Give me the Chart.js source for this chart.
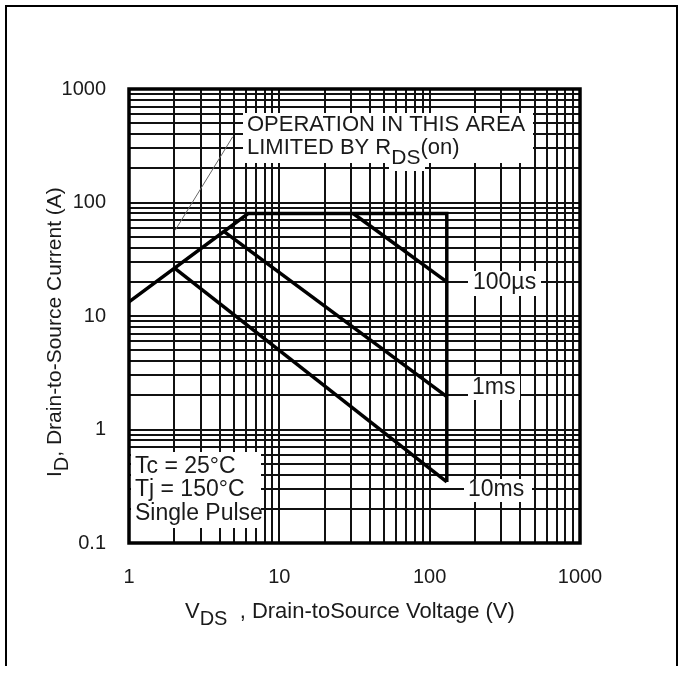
<!DOCTYPE html>
<html>
<head>
<meta charset="utf-8">
<script src="https://cdn.jsdelivr.net/npm/chart.js@4"></script>
<style>
  body { margin: 0; background: #fff; }
  #wrap { position: relative; width: 683px; height: 674px; overflow: hidden; }
  #frame { position: absolute; left: 5px; top: 5px; width: 669px; height: 659px;
           border: 2px solid #000; border-bottom: none; pointer-events: none; }
</style>
</head>
<body>
<div id="wrap">
  <canvas id="soaChart"></canvas>
  <div id="frame"></div>
</div>
<script>
// Safe operating area

const xTickLabels = [1, 10, 100, 1000];
const yTickLabels = [0.1, 1, 10, 100, 1000];
const decadeSteps = [1, 2, 3, 4, 5, 6, 7, 8, 9];

// envelope: RDS(on) limit, current limit, voltage limit
const limitV = [1, 6.2, 130, 130];
const limitI = [13.3, 80, 80, 0.345];

const pulse100usV = [31, 130];
const pulse100usI = [80, 20];

const pulse1msV = [4.25, 130];
const pulse1msI = [56, 1.95];

const pulse10msV = [2.0, 130];
const pulse10msI = [26.5, 0.345];

// thin pointer from the note to the RDS(on) line
const leaderV = [2.03, 4.9];
const leaderI = [57, 380];

const FONT = "'Liberation Sans', Arial, Helvetica, sans-serif";
const INK = "#1a1a1a";

function points(xs, ys) {
    return xs.map((x, i) => ({ x: x, y: ys[i] }));
}

function logTicks(labels) {
    const ticks = [];
    for (let i = 0; i < labels.length - 1; i++) {
        decadeSteps.forEach(s => ticks.push(+(labels[i] * s).toPrecision(3)));
    }
    ticks.push(labels[labels.length - 1]);
    return ticks.map(v => ({ value: v }));
}

function curve(data, width, color) {
    return {
        data: data,
        borderColor: color,
        borderWidth: width,
        pointRadius: 0,
        fill: false,
        tension: 0
    };
}

// draws text pieces in a row, some of them as subscripts
function drawRun(ctx, x, y, pieces) {
    pieces.forEach(p => {
        ctx.font = p.size + "px " + FONT;
        ctx.fillText(p.text, x, y + (p.dy || 0));
        x += ctx.measureText(p.text).width;
    });
}

function whiteBox(ctx, a, dx, dy, w, h) {
    ctx.fillStyle = "#fff";
    ctx.fillRect(a.left + dx, a.top + dy, w, h);
    ctx.fillStyle = INK;
}

const notes = {
    id: "notes",
    beforeDatasetsDraw(chart) {
        const ctx = chart.ctx;
        const a = chart.chartArea;
        ctx.save();
        ctx.textBaseline = "middle";
        ctx.textAlign = "left";

        // operation area note
        whiteBox(ctx, a, 114, 24, 290, 50);
        whiteBox(ctx, a, 260, 60, 36, 22);
        drawRun(ctx, a.left + 118, a.top + 36, [{ text: "OPERATION IN THIS AREA", size: 22 }]);
        drawRun(ctx, a.left + 118, a.top + 59, [
            { text: "LIMITED BY R", size: 22 },
            { text: "DS", size: 21, dy: 10 },
            { text: "(on)", size: 22 }
        ]);

        // pulse labels
        whiteBox(ctx, a, 339, 182, 73, 25);
        drawRun(ctx, a.left + 344, a.top + 194, [{ text: "100\u00b5s", size: 23 }]);
        whiteBox(ctx, a, 339, 287, 52, 24);
        drawRun(ctx, a.left + 343, a.top + 299, [{ text: "1ms", size: 23 }]);
        whiteBox(ctx, a, 335, 390, 68, 23);
        drawRun(ctx, a.left + 339, a.top + 401, [{ text: "10ms", size: 23 }]);

        // conditions
        whiteBox(ctx, a, 2, 363, 130, 76);
        drawRun(ctx, a.left + 6, a.top + 378, [{ text: "Tc = 25\u00b0C", size: 23 }]);
        drawRun(ctx, a.left + 6, a.top + 401, [{ text: "Tj = 150\u00b0C", size: 23 }]);
        drawRun(ctx, a.left + 6, a.top + 425, [{ text: "Single Pulse", size: 23 }]);

        ctx.restore();
    },
    afterDatasetsDraw(chart) {
        const ctx = chart.ctx;
        const a = chart.chartArea;
        ctx.save();

        ctx.strokeStyle = "#000";
        ctx.lineWidth = 3.5;
        ctx.strokeRect(a.left, a.top, a.right - a.left, a.bottom - a.top);

        ctx.fillStyle = INK;
        ctx.textBaseline = "alphabetic";
        ctx.textAlign = "left";

        // x title
        drawRun(ctx, 185, 618, [
            { text: "V", size: 22 },
            { text: "DS", size: 20, dy: 7 },
            { text: "  , Drain-toSource Voltage (V)", size: 22 }
        ]);

        // y title
        ctx.translate(61, 477);
        ctx.rotate(-Math.PI / 2);
        drawRun(ctx, 0, 0, [
            { text: "I", size: 21 },
            { text: "D", size: 20, dy: 7 },
            { text: ", Drain-to-Source Current (A)", size: 21 }
        ]);

        ctx.restore();
    }
};

new Chart(document.getElementById("soaChart"), {
    type: "line",
    data: {
        datasets: [
            curve(points(limitV, limitI), 3.5, "#000"),
            curve(points(pulse100usV, pulse100usI), 3.5, "#000"),
            curve(points(pulse1msV, pulse1msI), 3.5, "#000"),
            curve(points(pulse10msV, pulse10msI), 3.5, "#000"),
            curve(points(leaderV, leaderI), 1, "#666")
        ]
    },
    options: {
        responsive: true,
        maintainAspectRatio: false,
        animation: false,
        layout: { padding: { left: 0, top: 89, right: 103, bottom: 0 } },
        plugins: {
            legend: { display: false },
            tooltip: { enabled: false }
        },
        scales: {
            x: {
                type: "logarithmic",
                min: 1,
                max: 1000,
                afterBuildTicks: s => { s.ticks = logTicks(xTickLabels); },
                afterFit: s => { s.height = 131; },
                grid: { color: "#111", lineWidth: 2, drawTicks: false },
                border: { display: false },
                ticks: {
                    autoSkip: false,
                    maxRotation: 0,
                    padding: 22,
                    color: INK,
                    font: { family: FONT, size: 20 },
                    callback: v => xTickLabels.includes(v) ? String(v) : ""
                }
            },
            y: {
                type: "logarithmic",
                min: 0.1,
                max: 1000,
                afterBuildTicks: s => { s.ticks = logTicks(yTickLabels); },
                afterFit: s => { s.width = 129; },
                grid: { color: "#111", lineWidth: 2, drawTicks: false },
                border: { display: false },
                ticks: {
                    autoSkip: false,
                    padding: 23,
                    color: INK,
                    font: { family: FONT, size: 20 },
                    callback: v => yTickLabels.includes(v) ? String(v) : ""
                }
            }
        }
    },
    plugins: [notes]
});
</script>
</body>
</html>
